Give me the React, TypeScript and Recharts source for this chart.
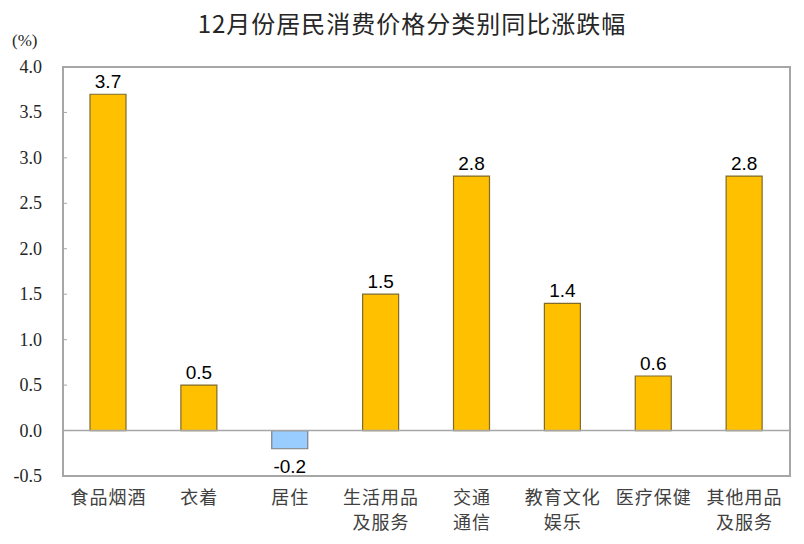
import { BarChart, Bar, XAxis, YAxis, Cell, LabelList, ReferenceLine, ReferenceArea } from 'recharts';

const categories = ['食品烟酒', '衣着', '居住', '生活用品\n及服务', '交通\n通信', '教育文化\n娱乐', '医疗保健', '其他用品\n及服务'];
const values = [3.7, 0.5, -0.2, 1.5, 2.8, 1.4, 0.6, 2.8];
const yTicks = [-0.5, 0, 0.5, 1.0, 1.5, 2.0, 2.5, 3.0, 3.5, 4.0];

const data = categories.map((name, i) => ({ name, value: values[i] }));

const YTick = ({ x, y, payload }: any) => (
  <g>
    <line x1={x + 8} x2={x + 12} y1={y} y2={y} stroke="#a6a6a6" />
    <text x={x - 13} y={y + 6} textAnchor="end" fontFamily="'Liberation Serif', serif" fontSize={18} fill="#262626">
      {payload.value.toFixed(1)}
    </text>
  </g>
);

const XTick = ({ x, y, payload }: any) => {
  const lines = String(payload.value).split('\n');
  return (
    <text x={x} y={y + 20} textAnchor="middle" fontFamily="'Noto Sans CJK SC', sans-serif" fontSize={18} letterSpacing={1} fill="#404040">
      {lines.map((l, i) => (
        <tspan key={i} x={x} dy={i === 0 ? 0 : 25}>{l}</tspan>
      ))}
    </text>
  );
};

const ValueLabel = ({ x, y, width, height, value }: any) => {
  const top = Math.min(y, y + height);
  const bottom = Math.max(y, y + height);
  const ty = value < 0 ? bottom + 24 : top - 6;
  return (
    <text x={x + width / 2} y={ty} textAnchor="middle" fontFamily="'Liberation Sans', Arial, sans-serif" fontSize={19} fill="#000">
      {value.toFixed(1)}
    </text>
  );
};

export default function App() {
  return (
    <div style={{ position: 'relative', width: 804, height: 544, background: '#fff', margin: -8 }}>
      <div style={{ position: 'absolute', left: 10, top: 5, width: 804, textAlign: 'center', fontFamily: "'Noto Sans CJK SC', sans-serif", fontSize: 24, color: '#262626', letterSpacing: 1 }}>
        12月份居民消费价格分类别同比涨跌幅
      </div>
      <div style={{ position: 'absolute', left: 12, top: 31, fontFamily: "'Liberation Serif', serif", fontSize: 17, color: '#262626' }}>
        (%)
      </div>
      <BarChart width={804} height={544} data={data} margin={{ top: 67, right: 14, bottom: 0, left: 0 }} barSize={36}>
        <XAxis dataKey="name" height={68} axisLine={{ stroke: '#a6a6a6' }} tickLine={false} interval={0} tick={<XTick />} />
        <YAxis width={63} domain={[-0.5, 4]} ticks={yTicks} axisLine={{ stroke: '#a6a6a6' }} tickLine={false} tick={<YTick />} />
        <ReferenceArea y1={-0.5} y2={4} fill="none" stroke="#a6a6a6" strokeWidth={2} />
        <Bar dataKey="value" isAnimationActive={false} strokeWidth={1.2}>
          {data.map((d, i) => (
            <Cell key={i} fill={d.value < 0 ? '#99ccff' : '#ffc000'} stroke={d.value < 0 ? '#7f7f7f' : '#7f6a2a'} />
          ))}
          <LabelList dataKey="value" content={<ValueLabel />} />
        </Bar>
        <ReferenceLine y={0} stroke="#a6a6a6" strokeWidth={1.5} />
      </BarChart>
    </div>
  );
}
